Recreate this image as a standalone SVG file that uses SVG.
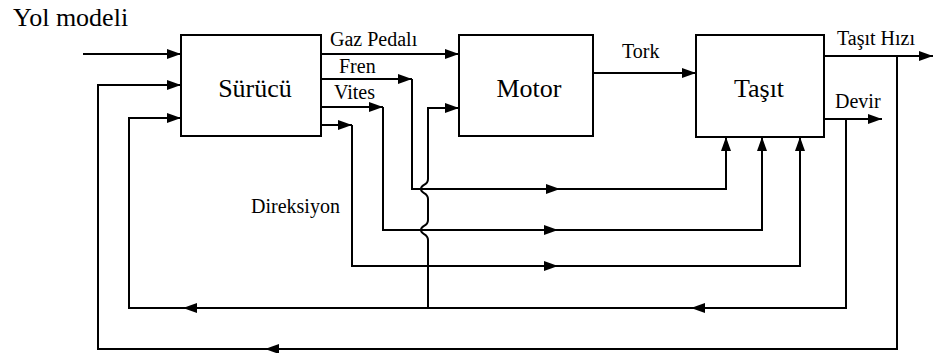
<svg xmlns="http://www.w3.org/2000/svg" width="933" height="353" viewBox="0 0 933 353">
<style>
.box{fill:#fff;stroke:#000;stroke-width:2}
.ln{fill:none;stroke:#000;stroke-width:2}
.big{font-size:26px;fill:#000}
.sm{font-size:20px;fill:#000}
</style>
<defs>
<marker id="arr" markerUnits="userSpaceOnUse" markerWidth="14" markerHeight="10" refX="14" refY="5" orient="auto">
<path d="M0,0 L14,5 L0,10 z" fill="#000"/>
</marker>
<path id="ah" d="M0,0 L-14,-5 L-14,5 z" fill="#000"/>
</defs>
<rect width="933" height="353" fill="#fff"/>
<g font-family="Liberation Serif, Times New Roman, serif">
<text class="big" x="13" y="26">Yol modeli</text>
<g id="connectors">
<path class="ln" d="M83,54 H181" marker-end="url(#arr)"/>
<path class="ln" d="M897,56 V349 H98 V85 H181" marker-end="url(#arr)"/>
<use href="#ah" transform="translate(265,349) rotate(180)"/>
<path class="ln" d="M846,119 V308 H129 V118 H181" marker-end="url(#arr)"/>
<use href="#ah" transform="translate(691,308) rotate(180)"/>
<use href="#ah" transform="translate(183,308) rotate(180)"/>
<path class="ln" d="M428,308 V240 C428,233 421,235 421,230 C421,225 428,227 428,220 V199 C428,192 421,194 421,189 C421,184 428,186 428,179 V108 H459" marker-end="url(#arr)"/>
<path class="ln" d="M321,54 H459" marker-end="url(#arr)"/>
<path class="ln" d="M321,79 H412" marker-end="url(#arr)"/>
<path class="ln" d="M412,79 V189 H726 V137" marker-end="url(#arr)"/>
<use href="#ah" transform="translate(560,189)"/>
<path class="ln" d="M321,107 H383" marker-end="url(#arr)"/>
<path class="ln" d="M383,107 V230 H762 V137" marker-end="url(#arr)"/>
<use href="#ah" transform="translate(558,230)"/>
<path class="ln" d="M321,125 H352" marker-end="url(#arr)"/>
<path class="ln" d="M352,125 V266 H800 V137" marker-end="url(#arr)"/>
<use href="#ah" transform="translate(558,266)"/>
<path class="ln" d="M593,73 H696" marker-end="url(#arr)"/>
<path class="ln" d="M824,56 H933" marker-end="url(#arr)"/>
<path class="ln" d="M824,119 H882" marker-end="url(#arr)"/>
<text class="sm" x="330" y="46">Gaz Pedalı</text>
<text class="sm" x="339" y="73">Fren</text>
<text class="sm" x="334" y="99">Vites</text>
<text class="sm" x="622" y="58">Tork</text>
<text class="sm" x="837" y="45">Taşıt Hızı</text>
<text class="sm" x="835" y="108">Devir</text>
<text class="sm" x="251" y="213">Direksiyon</text>
</g>
<g id="surucu">
<rect class="box" x="181" y="35" width="140" height="101"/>
<text class="big" x="255" y="97" text-anchor="middle">Sürücü</text>
</g>
<g id="motor">
<rect class="box" x="459" y="35" width="134" height="101"/>
<text class="big" x="529" y="97" text-anchor="middle">Motor</text>
</g>
<g id="tasit">
<rect class="box" x="696" y="35" width="128" height="102"/>
<text class="big" x="759" y="97" text-anchor="middle">Taşıt</text>
</g>
</g>
</svg>
